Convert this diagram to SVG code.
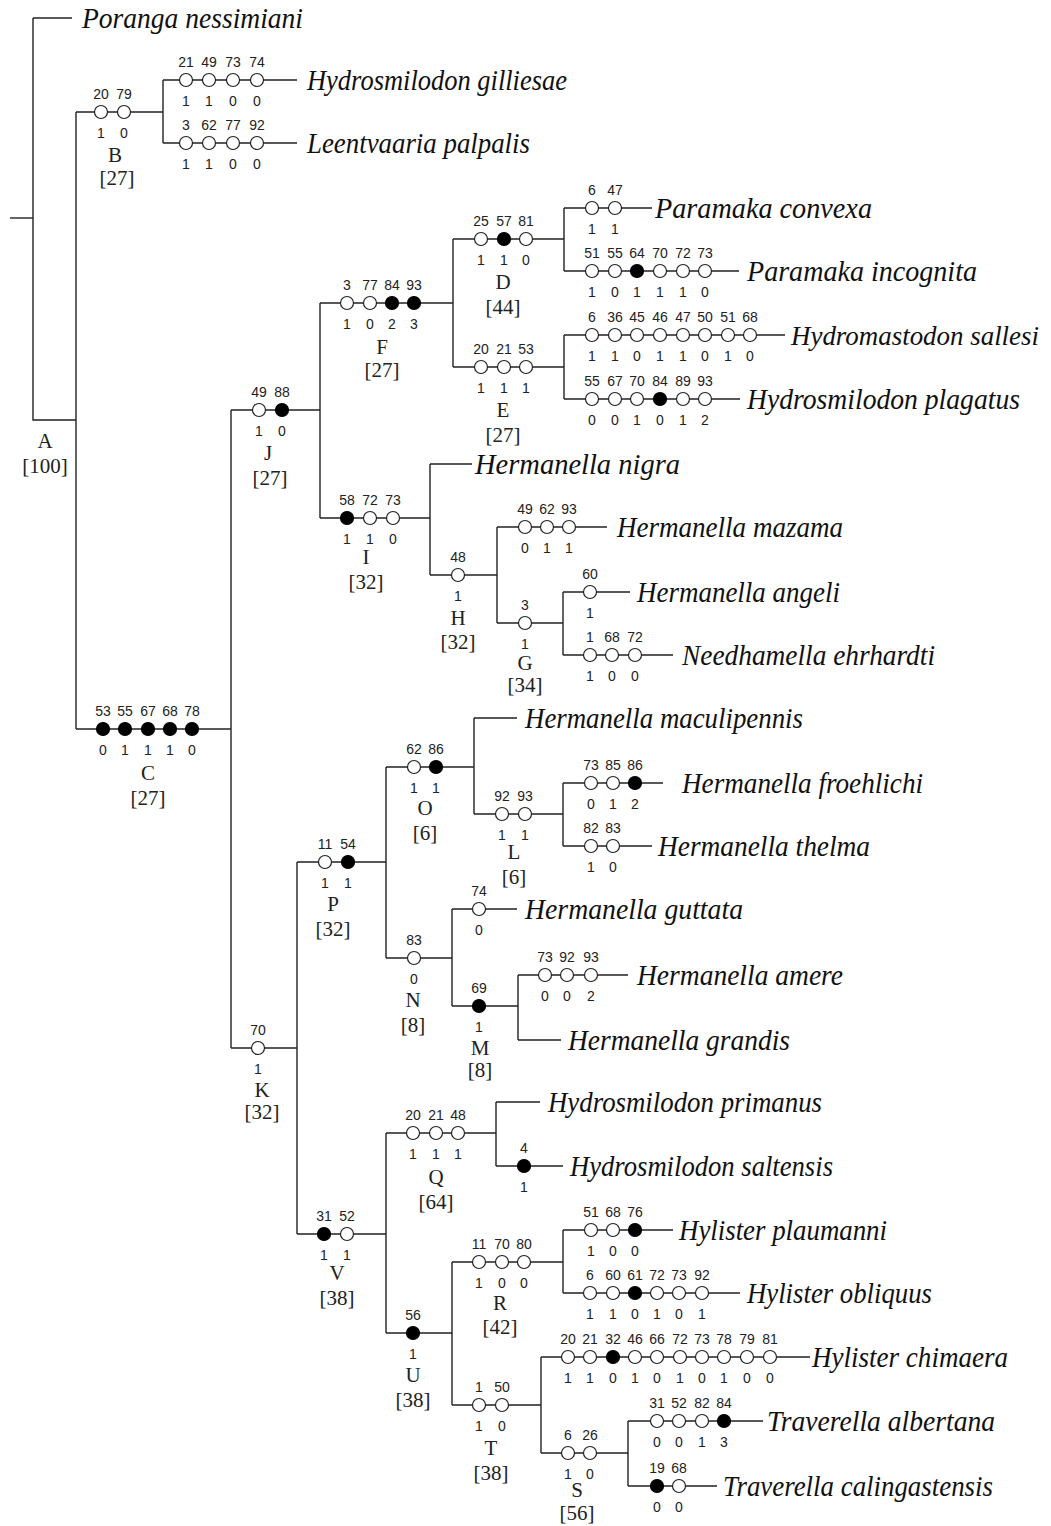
<svg xmlns="http://www.w3.org/2000/svg" width="1051" height="1526" viewBox="0 0 1051 1526">
<style>
.ln{stroke:#222;stroke-width:1.4;fill:none}
.o{fill:#fff;stroke:#222;stroke-width:1.2}
.f{fill:#000;stroke:#000;stroke-width:1.2}
.n{font-family:"Liberation Sans",Arial,sans-serif;font-size:14px;text-anchor:middle;fill:#222}
.lb{font-family:"Liberation Serif","Times New Roman",serif;font-size:21px;text-anchor:middle;fill:#222}
.tx{font-family:"Liberation Serif","Times New Roman",serif;font-style:italic;font-size:29px;fill:#111}
</style>
<rect width="1051" height="1526" fill="#fff"/>
<g id="connectors" class="ln">
<path d="M10,218H33"/>
<path d="M33,18H72"/>
<path d="M33,18V420H76"/>
<path d="M76,112V729"/>
<path d="M76,112H163M163,80V143M163,80H297M163,143H297"/>
<path d="M76,729H231M231,410V1048"/>
<path d="M231,410H320M320,303V518"/>
<path d="M320,303H453M453,239V367"/>
<path d="M453,239H564M564,208V271M564,208H652M564,271H739"/>
<path d="M453,367H564M564,335V399M564,335H785M564,399H740"/>
<path d="M320,518H430M430,464V575M430,464H472"/>
<path d="M430,575H497M497,527V623M497,527H607"/>
<path d="M497,623H563M563,592V655M563,592H630M563,655H673"/>
<path d="M231,1048H297M297,862V1234"/>
<path d="M297,862H386M386,767V958"/>
<path d="M386,767H474M474,718V814M474,718H517"/>
<path d="M474,814H563M563,783V846M563,783H663M563,846H652"/>
<path d="M386,958H452M452,909V1006M452,909H517"/>
<path d="M452,1006H518M518,975V1040M518,975H628M518,1040H561"/>
<path d="M297,1234H386M386,1133V1333"/>
<path d="M386,1133H496M496,1102V1166M496,1102H540M496,1166H563"/>
<path d="M386,1333H452M452,1262V1405"/>
<path d="M452,1262H563M563,1230V1293M563,1230H673M563,1293H740"/>
<path d="M452,1405H541M541,1357V1453M541,1357H810"/>
<path d="M541,1453H628M628,1421V1486M628,1421H763M628,1486H717"/>
</g>

<g id="taxon-poranga"><text class="tx" x="82" y="28" textLength="221" lengthAdjust="spacingAndGlyphs">Poranga nessimiani</text></g>

<g id="node-A"><text class="lb" x="45" y="448">A</text><text class="lb" x="45" y="473">[100]</text></g>

<g id="node-B">
<circle class="o" cx="101" cy="112" r="6.5"/><circle class="o" cx="124" cy="112" r="6.5"/>
<text class="n" x="101" y="99">20</text><text class="n" x="124" y="99">79</text>
<text class="n" x="101" y="138">1</text><text class="n" x="124" y="138">0</text>
<text class="lb" x="115" y="162">B</text><text class="lb" x="117" y="185">[27]</text>
</g>

<g id="taxon-gilliesae">
<circle class="o" cx="186" cy="80" r="6.5"/><circle class="o" cx="209" cy="80" r="6.5"/><circle class="o" cx="233" cy="80" r="6.5"/><circle class="o" cx="257" cy="80" r="6.5"/>
<text class="n" x="186" y="67">21</text><text class="n" x="209" y="67">49</text><text class="n" x="233" y="67">73</text><text class="n" x="257" y="67">74</text>
<text class="n" x="186" y="106">1</text><text class="n" x="209" y="106">1</text><text class="n" x="233" y="106">0</text><text class="n" x="257" y="106">0</text>
<text class="tx" x="307" y="90" textLength="260" lengthAdjust="spacingAndGlyphs">Hydrosmilodon gilliesae</text>
</g>

<g id="taxon-leentvaaria">
<circle class="o" cx="186" cy="143" r="6.5"/><circle class="o" cx="209" cy="143" r="6.5"/><circle class="o" cx="233" cy="143" r="6.5"/><circle class="o" cx="257" cy="143" r="6.5"/>
<text class="n" x="186" y="130">3</text><text class="n" x="209" y="130">62</text><text class="n" x="233" y="130">77</text><text class="n" x="257" y="130">92</text>
<text class="n" x="186" y="169">1</text><text class="n" x="209" y="169">1</text><text class="n" x="233" y="169">0</text><text class="n" x="257" y="169">0</text>
<text class="tx" x="307" y="153" textLength="223" lengthAdjust="spacingAndGlyphs">Leentvaaria palpalis</text>
</g>

<g id="node-C">
<circle class="f" cx="103" cy="729" r="6.5"/><circle class="f" cx="125" cy="729" r="6.5"/><circle class="f" cx="148" cy="729" r="6.5"/><circle class="f" cx="170" cy="729" r="6.5"/><circle class="f" cx="192" cy="729" r="6.5"/>
<text class="n" x="103" y="716">53</text><text class="n" x="125" y="716">55</text><text class="n" x="148" y="716">67</text><text class="n" x="170" y="716">68</text><text class="n" x="192" y="716">78</text>
<text class="n" x="103" y="755">0</text><text class="n" x="125" y="755">1</text><text class="n" x="148" y="755">1</text><text class="n" x="170" y="755">1</text><text class="n" x="192" y="755">0</text>
<text class="lb" x="148" y="780">C</text><text class="lb" x="148" y="805">[27]</text>
</g>

<g id="node-J">
<circle class="o" cx="259" cy="410" r="6.5"/><circle class="f" cx="282" cy="410" r="6.5"/>
<text class="n" x="259" y="397">49</text><text class="n" x="282" y="397">88</text>
<text class="n" x="259" y="436">1</text><text class="n" x="282" y="436">0</text>
<text class="lb" x="268" y="460">J</text><text class="lb" x="270" y="485">[27]</text>
</g>

<g id="node-F">
<circle class="o" cx="347" cy="303" r="6.5"/><circle class="o" cx="370" cy="303" r="6.5"/><circle class="f" cx="392" cy="303" r="6.5"/><circle class="f" cx="414" cy="303" r="6.5"/>
<text class="n" x="347" y="290">3</text><text class="n" x="370" y="290">77</text><text class="n" x="392" y="290">84</text><text class="n" x="414" y="290">93</text>
<text class="n" x="347" y="329">1</text><text class="n" x="370" y="329">0</text><text class="n" x="392" y="329">2</text><text class="n" x="414" y="329">3</text>
<text class="lb" x="382" y="354">F</text><text class="lb" x="382" y="377">[27]</text>
</g>

<g id="node-D">
<circle class="o" cx="481" cy="239" r="6.5"/><circle class="f" cx="504" cy="239" r="6.5"/><circle class="o" cx="526" cy="239" r="6.5"/>
<text class="n" x="481" y="226">25</text><text class="n" x="504" y="226">57</text><text class="n" x="526" y="226">81</text>
<text class="n" x="481" y="265">1</text><text class="n" x="504" y="265">1</text><text class="n" x="526" y="265">0</text>
<text class="lb" x="503" y="289">D</text><text class="lb" x="503" y="314">[44]</text>
</g>

<g id="taxon-convexa">
<circle class="o" cx="592" cy="208" r="6.5"/><circle class="o" cx="615" cy="208" r="6.5"/>
<text class="n" x="592" y="195">6</text><text class="n" x="615" y="195">47</text>
<text class="n" x="592" y="234">1</text><text class="n" x="615" y="234">1</text>
<text class="tx" x="655" y="218" textLength="217" lengthAdjust="spacingAndGlyphs">Paramaka convexa</text>
</g>

<g id="taxon-incognita">
<circle class="o" cx="592" cy="271" r="6.5"/><circle class="o" cx="615" cy="271" r="6.5"/><circle class="f" cx="637" cy="271" r="6.5"/><circle class="o" cx="660" cy="271" r="6.5"/><circle class="o" cx="683" cy="271" r="6.5"/><circle class="o" cx="705" cy="271" r="6.5"/>
<text class="n" x="592" y="258">51</text><text class="n" x="615" y="258">55</text><text class="n" x="637" y="258">64</text><text class="n" x="660" y="258">70</text><text class="n" x="683" y="258">72</text><text class="n" x="705" y="258">73</text>
<text class="n" x="592" y="297">1</text><text class="n" x="615" y="297">0</text><text class="n" x="637" y="297">1</text><text class="n" x="660" y="297">1</text><text class="n" x="683" y="297">1</text><text class="n" x="705" y="297">0</text>
<text class="tx" x="747" y="281" textLength="230" lengthAdjust="spacingAndGlyphs">Paramaka incognita</text>
</g>

<g id="node-E">
<circle class="o" cx="481" cy="367" r="6.5"/><circle class="o" cx="504" cy="367" r="6.5"/><circle class="o" cx="526" cy="367" r="6.5"/>
<text class="n" x="481" y="354">20</text><text class="n" x="504" y="354">21</text><text class="n" x="526" y="354">53</text>
<text class="n" x="481" y="393">1</text><text class="n" x="504" y="393">1</text><text class="n" x="526" y="393">1</text>
<text class="lb" x="503" y="417">E</text><text class="lb" x="503" y="442">[27]</text>
</g>

<g id="taxon-sallesi">
<circle class="o" cx="592" cy="335" r="6.5"/><circle class="o" cx="615" cy="335" r="6.5"/><circle class="o" cx="637" cy="335" r="6.5"/><circle class="o" cx="660" cy="335" r="6.5"/><circle class="o" cx="683" cy="335" r="6.5"/><circle class="o" cx="705" cy="335" r="6.5"/><circle class="o" cx="728" cy="335" r="6.5"/><circle class="o" cx="750" cy="335" r="6.5"/>
<text class="n" x="592" y="322">6</text><text class="n" x="615" y="322">36</text><text class="n" x="637" y="322">45</text><text class="n" x="660" y="322">46</text><text class="n" x="683" y="322">47</text><text class="n" x="705" y="322">50</text><text class="n" x="728" y="322">51</text><text class="n" x="750" y="322">68</text>
<text class="n" x="592" y="361">1</text><text class="n" x="615" y="361">1</text><text class="n" x="637" y="361">0</text><text class="n" x="660" y="361">1</text><text class="n" x="683" y="361">1</text><text class="n" x="705" y="361">0</text><text class="n" x="728" y="361">1</text><text class="n" x="750" y="361">0</text>
<text class="tx" x="791" y="345" style="font-size:27px" textLength="248" lengthAdjust="spacingAndGlyphs">Hydromastodon sallesi</text>
</g>

<g id="taxon-plagatus">
<circle class="o" cx="592" cy="399" r="6.5"/><circle class="o" cx="615" cy="399" r="6.5"/><circle class="o" cx="637" cy="399" r="6.5"/><circle class="f" cx="660" cy="399" r="6.5"/><circle class="o" cx="683" cy="399" r="6.5"/><circle class="o" cx="705" cy="399" r="6.5"/>
<text class="n" x="592" y="386">55</text><text class="n" x="615" y="386">67</text><text class="n" x="637" y="386">70</text><text class="n" x="660" y="386">84</text><text class="n" x="683" y="386">89</text><text class="n" x="705" y="386">93</text>
<text class="n" x="592" y="425">0</text><text class="n" x="615" y="425">0</text><text class="n" x="637" y="425">1</text><text class="n" x="660" y="425">0</text><text class="n" x="683" y="425">1</text><text class="n" x="705" y="425">2</text>
<text class="tx" x="747" y="409" textLength="273" lengthAdjust="spacingAndGlyphs">Hydrosmilodon plagatus</text>
</g>

<g id="node-I">
<circle class="f" cx="347" cy="518" r="6.5"/><circle class="o" cx="370" cy="518" r="6.5"/><circle class="o" cx="393" cy="518" r="6.5"/>
<text class="n" x="347" y="505">58</text><text class="n" x="370" y="505">72</text><text class="n" x="393" y="505">73</text>
<text class="n" x="347" y="544">1</text><text class="n" x="370" y="544">1</text><text class="n" x="393" y="544">0</text>
<text class="lb" x="366" y="564">I</text><text class="lb" x="366" y="589">[32]</text>
</g>

<g id="taxon-nigra"><text class="tx" x="475" y="474" textLength="205" lengthAdjust="spacingAndGlyphs">Hermanella nigra</text></g>

<g id="node-H">
<circle class="o" cx="458" cy="575" r="6.5"/>
<text class="n" x="458" y="562">48</text><text class="n" x="458" y="601">1</text>
<text class="lb" x="458" y="625">H</text><text class="lb" x="458" y="649">[32]</text>
</g>

<g id="taxon-mazama">
<circle class="o" cx="525" cy="527" r="6.5"/><circle class="o" cx="547" cy="527" r="6.5"/><circle class="o" cx="569" cy="527" r="6.5"/>
<text class="n" x="525" y="514">49</text><text class="n" x="547" y="514">62</text><text class="n" x="569" y="514">93</text>
<text class="n" x="525" y="553">0</text><text class="n" x="547" y="553">1</text><text class="n" x="569" y="553">1</text>
<text class="tx" x="617" y="537" textLength="226" lengthAdjust="spacingAndGlyphs">Hermanella mazama</text>
</g>

<g id="node-G">
<circle class="o" cx="525" cy="623" r="6.5"/>
<text class="n" x="525" y="610">3</text><text class="n" x="525" y="649">1</text>
<text class="lb" x="525" y="670">G</text><text class="lb" x="525" y="692">[34]</text>
</g>

<g id="taxon-angeli">
<circle class="o" cx="590" cy="592" r="6.5"/>
<text class="n" x="590" y="579">60</text><text class="n" x="590" y="618">1</text>
<text class="tx" x="637" y="602" textLength="203" lengthAdjust="spacingAndGlyphs">Hermanella angeli</text>
</g>

<g id="taxon-ehrhardti">
<circle class="o" cx="590" cy="655" r="6.5"/><circle class="o" cx="612" cy="655" r="6.5"/><circle class="o" cx="635" cy="655" r="6.5"/>
<text class="n" x="590" y="642">1</text><text class="n" x="612" y="642">68</text><text class="n" x="635" y="642">72</text>
<text class="n" x="590" y="681">1</text><text class="n" x="612" y="681">0</text><text class="n" x="635" y="681">0</text>
<text class="tx" x="682" y="665" textLength="253" lengthAdjust="spacingAndGlyphs">Needhamella ehrhardti</text>
</g>

<g id="node-K">
<circle class="o" cx="258" cy="1048" r="6.5"/>
<text class="n" x="258" y="1035">70</text><text class="n" x="258" y="1074">1</text>
<text class="lb" x="262" y="1097">K</text><text class="lb" x="262" y="1119">[32]</text>
</g>

<g id="node-P">
<circle class="o" cx="325" cy="862" r="6.5"/><circle class="f" cx="348" cy="862" r="6.5"/>
<text class="n" x="325" y="849">11</text><text class="n" x="348" y="849">54</text>
<text class="n" x="325" y="888">1</text><text class="n" x="348" y="888">1</text>
<text class="lb" x="333" y="911">P</text><text class="lb" x="333" y="936">[32]</text>
</g>

<g id="node-O">
<circle class="o" cx="414" cy="767" r="6.5"/><circle class="f" cx="436" cy="767" r="6.5"/>
<text class="n" x="414" y="754">62</text><text class="n" x="436" y="754">86</text>
<text class="n" x="414" y="793">1</text><text class="n" x="436" y="793">1</text>
<text class="lb" x="425" y="815">O</text><text class="lb" x="425" y="840">[6]</text>
</g>

<g id="taxon-maculipennis"><text class="tx" x="525" y="728" textLength="278" lengthAdjust="spacingAndGlyphs">Hermanella maculipennis</text></g>

<g id="node-L">
<circle class="o" cx="502" cy="814" r="6.5"/><circle class="o" cx="525" cy="814" r="6.5"/>
<text class="n" x="502" y="801">92</text><text class="n" x="525" y="801">93</text>
<text class="n" x="502" y="840">1</text><text class="n" x="525" y="840">1</text>
<text class="lb" x="514" y="859">L</text><text class="lb" x="514" y="884">[6]</text>
</g>

<g id="taxon-froehlichi">
<circle class="o" cx="591" cy="783" r="6.5"/><circle class="o" cx="613" cy="783" r="6.5"/><circle class="f" cx="635" cy="783" r="6.5"/>
<text class="n" x="591" y="770">73</text><text class="n" x="613" y="770">85</text><text class="n" x="635" y="770">86</text>
<text class="n" x="591" y="809">0</text><text class="n" x="613" y="809">1</text><text class="n" x="635" y="809">2</text>
<text class="tx" x="682" y="793" textLength="241" lengthAdjust="spacingAndGlyphs">Hermanella froehlichi</text>
</g>

<g id="taxon-thelma">
<circle class="o" cx="591" cy="846" r="6.5"/><circle class="o" cx="613" cy="846" r="6.5"/>
<text class="n" x="591" y="833">82</text><text class="n" x="613" y="833">83</text>
<text class="n" x="591" y="872">1</text><text class="n" x="613" y="872">0</text>
<text class="tx" x="658" y="856" textLength="212" lengthAdjust="spacingAndGlyphs">Hermanella thelma</text>
</g>

<g id="node-N">
<circle class="o" cx="414" cy="958" r="6.5"/>
<text class="n" x="414" y="945">83</text><text class="n" x="414" y="984">0</text>
<text class="lb" x="413" y="1007">N</text><text class="lb" x="413" y="1032">[8]</text>
</g>

<g id="taxon-guttata">
<circle class="o" cx="479" cy="909" r="6.5"/>
<text class="n" x="479" y="896">74</text><text class="n" x="479" y="935">0</text>
<text class="tx" x="525" y="919" textLength="218" lengthAdjust="spacingAndGlyphs">Hermanella guttata</text>
</g>

<g id="node-M">
<circle class="f" cx="479" cy="1006" r="6.5"/>
<text class="n" x="479" y="993">69</text><text class="n" x="479" y="1032">1</text>
<text class="lb" x="480" y="1055">M</text><text class="lb" x="480" y="1077">[8]</text>
</g>

<g id="taxon-amere">
<circle class="o" cx="545" cy="975" r="6.5"/><circle class="o" cx="567" cy="975" r="6.5"/><circle class="o" cx="591" cy="975" r="6.5"/>
<text class="n" x="545" y="962">73</text><text class="n" x="567" y="962">92</text><text class="n" x="591" y="962">93</text>
<text class="n" x="545" y="1001">0</text><text class="n" x="567" y="1001">0</text><text class="n" x="591" y="1001">2</text>
<text class="tx" x="637" y="985" textLength="206" lengthAdjust="spacingAndGlyphs">Hermanella amere</text>
</g>

<g id="taxon-grandis"><text class="tx" x="568" y="1050" textLength="222" lengthAdjust="spacingAndGlyphs">Hermanella grandis</text></g>

<g id="node-V">
<circle class="f" cx="324" cy="1234" r="6.5"/><circle class="o" cx="347" cy="1234" r="6.5"/>
<text class="n" x="324" y="1221">31</text><text class="n" x="347" y="1221">52</text>
<text class="n" x="324" y="1260">1</text><text class="n" x="347" y="1260">1</text>
<text class="lb" x="337" y="1280">V</text><text class="lb" x="337" y="1305">[38]</text>
</g>

<g id="node-Q">
<circle class="o" cx="413" cy="1133" r="6.5"/><circle class="o" cx="436" cy="1133" r="6.5"/><circle class="o" cx="458" cy="1133" r="6.5"/>
<text class="n" x="413" y="1120">20</text><text class="n" x="436" y="1120">21</text><text class="n" x="458" y="1120">48</text>
<text class="n" x="413" y="1159">1</text><text class="n" x="436" y="1159">1</text><text class="n" x="458" y="1159">1</text>
<text class="lb" x="436" y="1184">Q</text><text class="lb" x="436" y="1209">[64]</text>
</g>

<g id="taxon-primanus"><text class="tx" x="548" y="1112" textLength="274" lengthAdjust="spacingAndGlyphs">Hydrosmilodon primanus</text></g>

<g id="taxon-saltensis">
<circle class="f" cx="524" cy="1166" r="6.5"/>
<text class="n" x="524" y="1153">4</text><text class="n" x="524" y="1192">1</text>
<text class="tx" x="570" y="1176" textLength="263" lengthAdjust="spacingAndGlyphs">Hydrosmilodon saltensis</text>
</g>

<g id="node-U">
<circle class="f" cx="413" cy="1333" r="6.5"/>
<text class="n" x="413" y="1320">56</text><text class="n" x="413" y="1359">1</text>
<text class="lb" x="413" y="1382">U</text><text class="lb" x="413" y="1407">[38]</text>
</g>

<g id="node-R">
<circle class="o" cx="479" cy="1262" r="6.5"/><circle class="o" cx="502" cy="1262" r="6.5"/><circle class="o" cx="524" cy="1262" r="6.5"/>
<text class="n" x="479" y="1249">11</text><text class="n" x="502" y="1249">70</text><text class="n" x="524" y="1249">80</text>
<text class="n" x="479" y="1288">1</text><text class="n" x="502" y="1288">0</text><text class="n" x="524" y="1288">0</text>
<text class="lb" x="500" y="1310">R</text><text class="lb" x="500" y="1334">[42]</text>
</g>

<g id="taxon-plaumanni">
<circle class="o" cx="591" cy="1230" r="6.5"/><circle class="o" cx="613" cy="1230" r="6.5"/><circle class="f" cx="635" cy="1230" r="6.5"/>
<text class="n" x="591" y="1217">51</text><text class="n" x="613" y="1217">68</text><text class="n" x="635" y="1217">76</text>
<text class="n" x="591" y="1256">1</text><text class="n" x="613" y="1256">0</text><text class="n" x="635" y="1256">0</text>
<text class="tx" x="679" y="1240" textLength="208" lengthAdjust="spacingAndGlyphs">Hylister plaumanni</text>
</g>

<g id="taxon-obliquus">
<circle class="o" cx="590" cy="1293" r="6.5"/><circle class="o" cx="613" cy="1293" r="6.5"/><circle class="f" cx="635" cy="1293" r="6.5"/><circle class="o" cx="657" cy="1293" r="6.5"/><circle class="o" cx="679" cy="1293" r="6.5"/><circle class="o" cx="702" cy="1293" r="6.5"/>
<text class="n" x="590" y="1280">6</text><text class="n" x="613" y="1280">60</text><text class="n" x="635" y="1280">61</text><text class="n" x="657" y="1280">72</text><text class="n" x="679" y="1280">73</text><text class="n" x="702" y="1280">92</text>
<text class="n" x="590" y="1319">1</text><text class="n" x="613" y="1319">1</text><text class="n" x="635" y="1319">0</text><text class="n" x="657" y="1319">1</text><text class="n" x="679" y="1319">0</text><text class="n" x="702" y="1319">1</text>
<text class="tx" x="747" y="1303" textLength="185" lengthAdjust="spacingAndGlyphs">Hylister obliquus</text>
</g>

<g id="node-T">
<circle class="o" cx="479" cy="1405" r="6.5"/><circle class="o" cx="502" cy="1405" r="6.5"/>
<text class="n" x="479" y="1392">1</text><text class="n" x="502" y="1392">50</text>
<text class="n" x="479" y="1431">1</text><text class="n" x="502" y="1431">0</text>
<text class="lb" x="491" y="1455">T</text><text class="lb" x="491" y="1480">[38]</text>
</g>

<g id="taxon-chimaera">
<circle class="o" cx="568" cy="1357" r="6.5"/><circle class="o" cx="590" cy="1357" r="6.5"/><circle class="f" cx="613" cy="1357" r="6.5"/><circle class="o" cx="635" cy="1357" r="6.5"/><circle class="o" cx="657" cy="1357" r="6.5"/><circle class="o" cx="680" cy="1357" r="6.5"/><circle class="o" cx="702" cy="1357" r="6.5"/><circle class="o" cx="724" cy="1357" r="6.5"/><circle class="o" cx="747" cy="1357" r="6.5"/><circle class="o" cx="770" cy="1357" r="6.5"/>
<text class="n" x="568" y="1344">20</text><text class="n" x="590" y="1344">21</text><text class="n" x="613" y="1344">32</text><text class="n" x="635" y="1344">46</text><text class="n" x="657" y="1344">66</text><text class="n" x="680" y="1344">72</text><text class="n" x="702" y="1344">73</text><text class="n" x="724" y="1344">78</text><text class="n" x="747" y="1344">79</text><text class="n" x="770" y="1344">81</text>
<text class="n" x="568" y="1383">1</text><text class="n" x="590" y="1383">1</text><text class="n" x="613" y="1383">0</text><text class="n" x="635" y="1383">1</text><text class="n" x="657" y="1383">0</text><text class="n" x="680" y="1383">1</text><text class="n" x="702" y="1383">0</text><text class="n" x="724" y="1383">1</text><text class="n" x="747" y="1383">0</text><text class="n" x="770" y="1383">0</text>
<text class="tx" x="812" y="1367" textLength="196" lengthAdjust="spacingAndGlyphs">Hylister chimaera</text>
</g>

<g id="node-S">
<circle class="o" cx="568" cy="1453" r="6.5"/><circle class="o" cx="590" cy="1453" r="6.5"/>
<text class="n" x="568" y="1440">6</text><text class="n" x="590" y="1440">26</text>
<text class="n" x="568" y="1479">1</text><text class="n" x="590" y="1479">0</text>
<text class="lb" x="577" y="1497">S</text><text class="lb" x="577" y="1520">[56]</text>
</g>

<g id="taxon-albertana">
<circle class="o" cx="657" cy="1421" r="6.5"/><circle class="o" cx="679" cy="1421" r="6.5"/><circle class="o" cx="702" cy="1421" r="6.5"/><circle class="f" cx="724" cy="1421" r="6.5"/>
<text class="n" x="657" y="1408">31</text><text class="n" x="679" y="1408">52</text><text class="n" x="702" y="1408">82</text><text class="n" x="724" y="1408">84</text>
<text class="n" x="657" y="1447">0</text><text class="n" x="679" y="1447">0</text><text class="n" x="702" y="1447">1</text><text class="n" x="724" y="1447">3</text>
<text class="tx" x="767" y="1431" textLength="228" lengthAdjust="spacingAndGlyphs">Traverella albertana</text>
</g>

<g id="taxon-calingastensis">
<circle class="f" cx="657" cy="1486" r="6.5"/><circle class="o" cx="679" cy="1486" r="6.5"/>
<text class="n" x="657" y="1473">19</text><text class="n" x="679" y="1473">68</text>
<text class="n" x="657" y="1512">0</text><text class="n" x="679" y="1512">0</text>
<text class="tx" x="723" y="1496" textLength="270" lengthAdjust="spacingAndGlyphs">Traverella calingastensis</text>
</g>
</svg>
